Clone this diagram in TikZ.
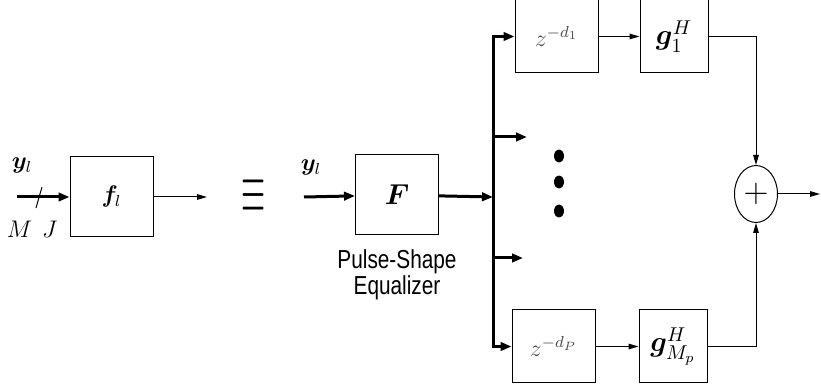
\documentclass[tikz,border=0pt]{standalone}
\usepackage{amsmath,bm}
\usepackage{fontspec}
\newfontfamily\narrowsf[FakeStretch=0.8]{Liberation Sans}
\usetikzlibrary{arrows.meta, positioning, shapes.geometric}

\begin{document}
\begin{tikzpicture}[
    x=0.5pt, y=-0.5pt,
    font=\normalsize,
    % Styles
    block/.style = {rectangle, draw=black, line width=0.5pt, minimum width=41.5pt, minimum height=40pt, inner sep=0pt},
    delay/.style = {block, minimum height=36.5pt, text=black!70, font=\large},
    filt/.style = {block, minimum width=34pt, minimum height=36.5pt, font=\Large},
    adder/.style = {ellipse, draw=black, line width=0.5pt, minimum width=21.5pt, minimum height=28.5pt, inner sep=0pt},
    arrow/.style = {-{Triangle[length=5pt, width=2.8pt]}, line width=0.5pt},
    thick_arrow/.style = {-{Triangle[length=5.5pt, width=4.2pt]}, line width=1.5pt},
    tag/.style = {inner sep=0pt}
]
\useasboundingbox (0,0) rectangle (821,390);

% --- 1. SINGLE EQUALIZER ---
\node[block, font=\large] (fl) at (111.5,197) {$\bm{f}_l$};
\coordinate (in_a) at (17,197);
\coordinate (out_a) at (207,197);
\draw[thick_arrow] (in_a) -- (fl);
\draw[arrow] (fl) -- (out_a);
\draw[line width=0.5pt] (42,187) -- (36,208);
\node[tag, font=\large] (y_a) at (22,166) {$\bm{y}_l$};
\node[tag, font=\large] (mj) at (32,229) {$M\hspace{5pt}J$};

% --- 2. EQUIVALENCE ---
\node[tag] (equiv) at (254,196) {\scalebox{1.55}[3.5]{$\equiv$}};

% --- 3. PULSE-SHAPE EQUALIZER ---
\node[block, font=\Large] (F) at (397,195) {$\bm{F}$};
\node[tag, below=7pt of F, align=center, font=\narrowsf\fontsize{13}{13}\selectfont] (psq) {Pulse-Shape\\Equalizer};
\node[tag, font=\large] (y_b) at (311,168) {$\bm{y}_l$};
\coordinate (in_b) at (304,197);
\coordinate (bus_mid) at (493,197);
\draw[thick_arrow] (in_b) -- (F);
\draw[thick_arrow] (F) -- (bus_mid);

% --- 4. DELAY BRANCHES ---
\node[delay] (zd1) at (556.5,36.5) {$z^{-d_1}$};
\node[delay] (zdP) at (553.5,346.5) {$z^{-d_P}$};
\node[filt] (g1) at (674,36.5) {$\bm{g}_1^H$};
\node[filt] (gM) at (673,346.5) {$\bm{g}_{M_p}^H$};

\draw[thick_arrow] (bus_mid) |- (zd1);
\draw[thick_arrow] (bus_mid) |- (zdP);

\coordinate (tap2) at (493,137);
\coordinate (tap2_end) at (527,137);
\coordinate (tap3) at (493,258);
\coordinate (tap3_end) at (523,258);
\draw[thick_arrow] (tap2) -- (tap2_end);
\draw[thick_arrow] (tap3) -- (tap3_end);

\foreach \y in {156,182,211}
    \fill (559,\y) ellipse [x radius=2.5pt, y radius=3.2pt];

\draw[arrow] (zd1) -- (g1);
\draw[arrow] (zdP) -- (gM);

% --- 5. COMBINER ---
\node[adder, font=\LARGE] (sum) at (756,194) {$+$};
\coordinate (out_c) at (820,194);
\draw[arrow] (g1) -| (sum);
\draw[arrow] (gM) -| (sum);
\draw[arrow] (sum) -- (out_c);

\end{tikzpicture}
\end{document}
